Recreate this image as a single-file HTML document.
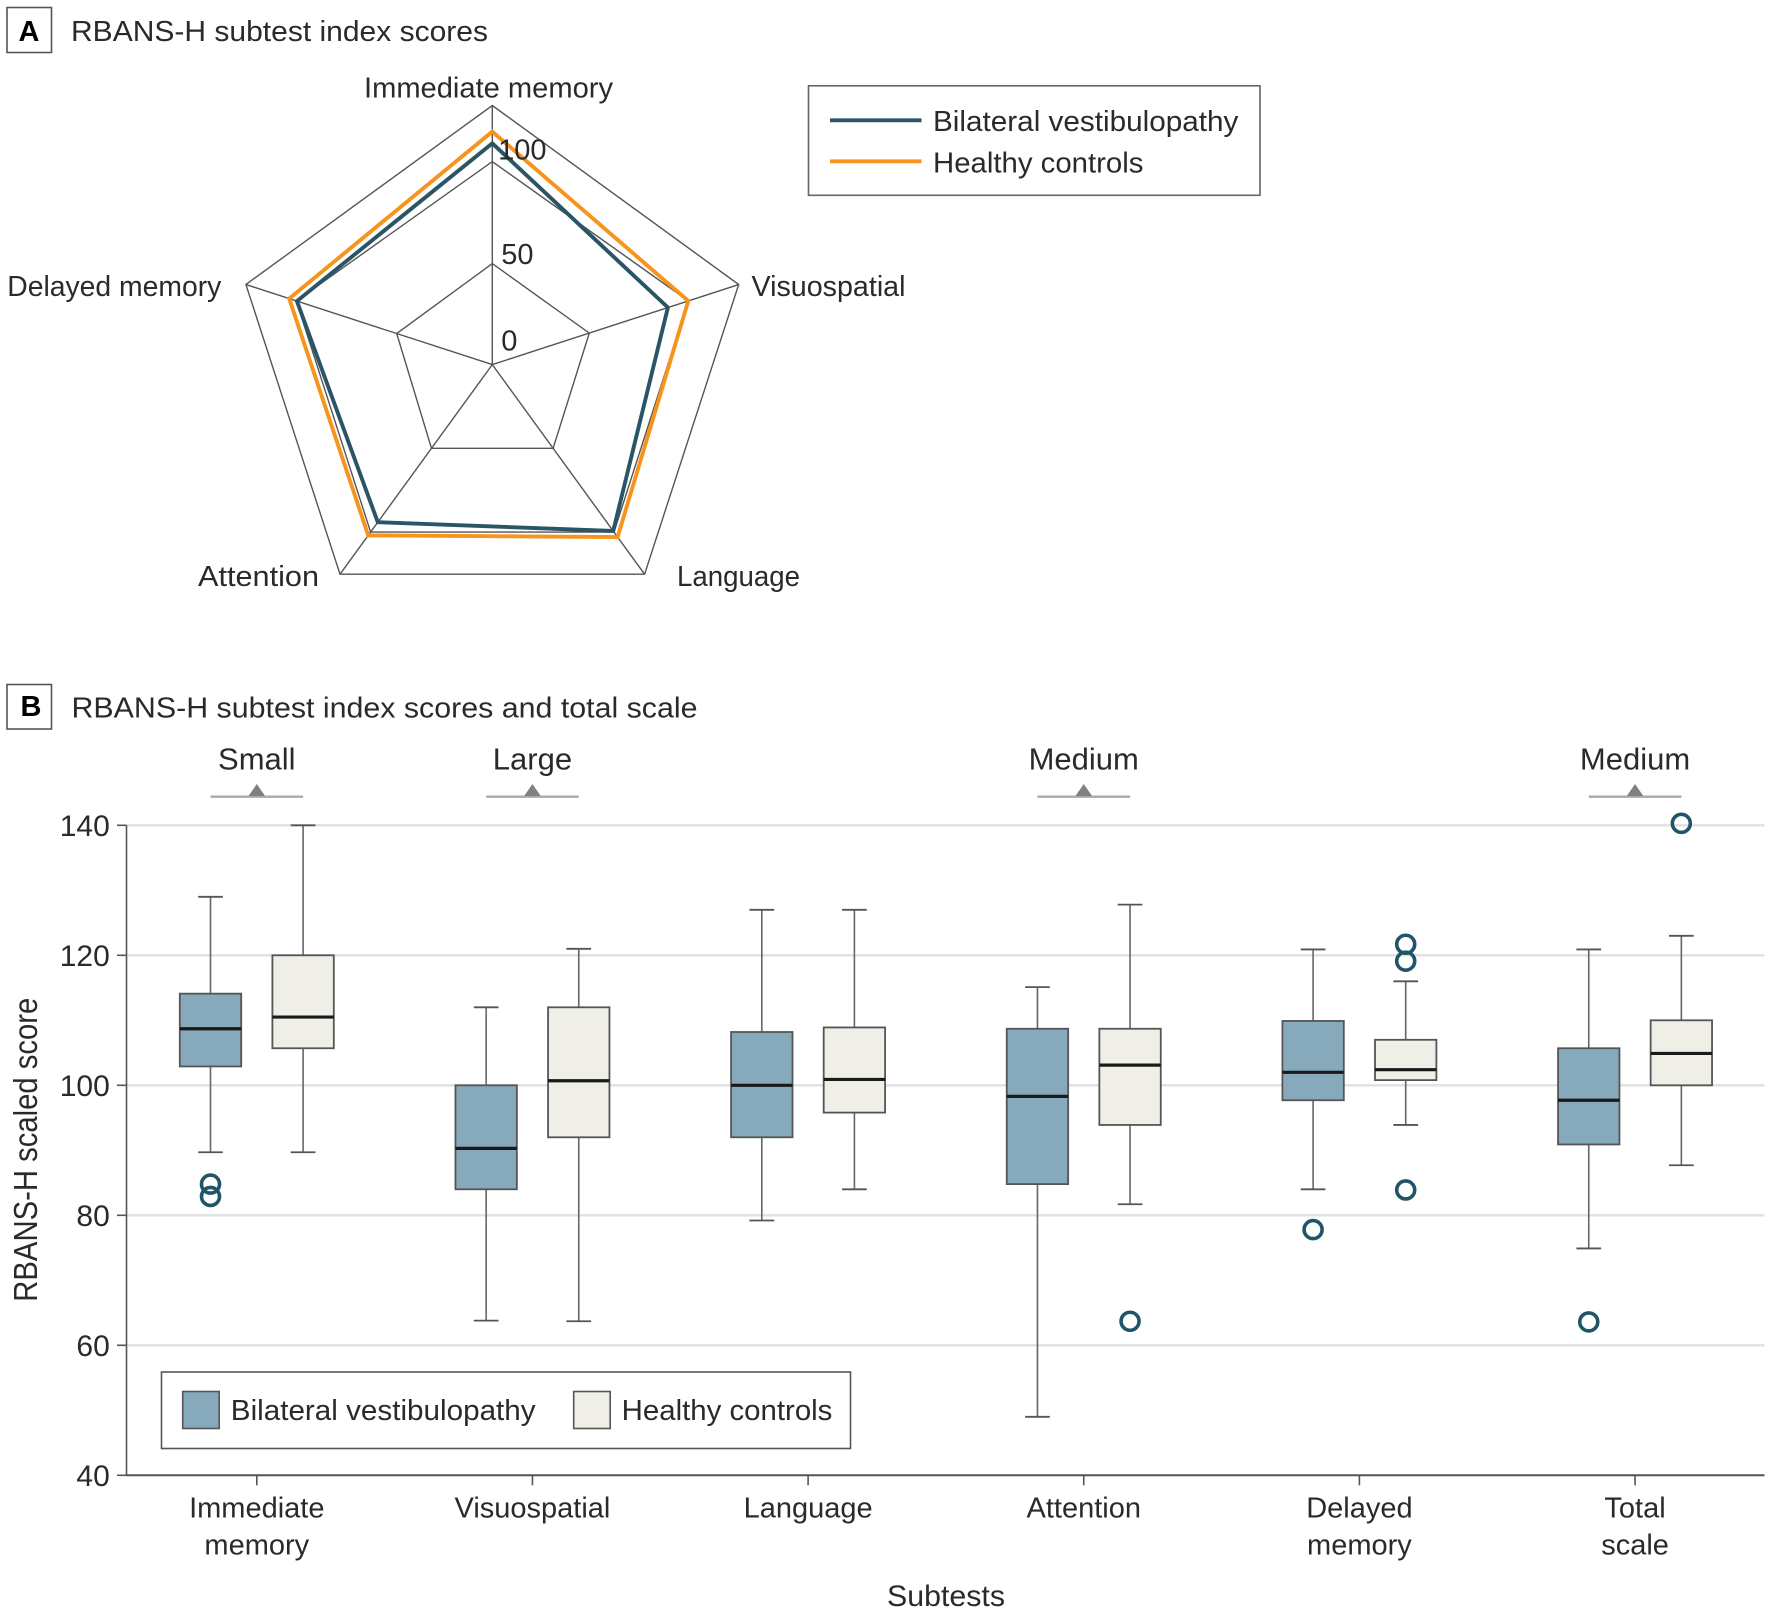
<!DOCTYPE html>
<html lang="en">
<head>
<meta charset="utf-8">
<title>RBANS-H subtest index scores</title>
<style>
html,body{margin:0;padding:0;background:#fff;width:1772px;height:1615px;overflow:hidden}
svg{display:block}
text{font-family:"Liberation Sans",sans-serif;fill:#2a2a2a}
</style>
</head>
<body>
<svg id="figure" xmlns="http://www.w3.org/2000/svg" width="1772" height="1615" viewBox="0 0 1772 1615">
  <rect x="0" y="0" width="1772" height="1615" fill="#fff"/>

  <g id="panel-a">
    <rect x="7" y="7.5" width="44.5" height="45" fill="#fff" stroke="#555" stroke-width="1.6"/>
    <text x="29" y="41" font-size="29" font-weight="700" text-anchor="middle" style="fill:#000">A</text>
    <text x="71" y="41" font-size="29" textLength="417" lengthAdjust="spacingAndGlyphs">RBANS-H subtest index scores</text>
    <g id="radar"></g>
    <text x="364" y="97.5" font-size="29" textLength="249" lengthAdjust="spacingAndGlyphs">Immediate memory</text>
    <text x="7.3" y="296" font-size="29" textLength="214" lengthAdjust="spacingAndGlyphs">Delayed memory</text>
    <text x="751.5" y="296" font-size="29" textLength="154" lengthAdjust="spacingAndGlyphs">Visuospatial</text>
    <text x="198" y="586" font-size="29" textLength="121" lengthAdjust="spacingAndGlyphs">Attention</text>
    <text x="677" y="586" font-size="29" textLength="123" lengthAdjust="spacingAndGlyphs">Language</text>

    <g>
      <rect x="808.5" y="85.8" width="451.5" height="109.5" fill="#fff" stroke="#666" stroke-width="1.6"/>
      <line x1="830" y1="120.3" x2="921.5" y2="120.3" stroke="#2a5566" stroke-width="3.8"/>
      <text x="933" y="131" font-size="29" textLength="305.4" lengthAdjust="spacingAndGlyphs">Bilateral vestibulopathy</text>
      <line x1="830" y1="161.3" x2="921.5" y2="161.3" stroke="#f7941d" stroke-width="3.8"/>
      <text x="933" y="172.5" font-size="29" textLength="210.4" lengthAdjust="spacingAndGlyphs">Healthy controls</text>
    </g>
  </g>

  <g id="panel-b">
    <rect x="7" y="684.5" width="44.5" height="44.5" fill="#fff" stroke="#555" stroke-width="1.6"/>
    <text x="31" y="716" font-size="29" font-weight="700" text-anchor="middle" style="fill:#000">B</text>
    <text x="71.5" y="717.3" font-size="29" textLength="626" lengthAdjust="spacingAndGlyphs">RBANS-H subtest index scores and total scale</text>
    <g id="boxplot"></g>
    <text transform="translate(37 1301.7) rotate(-90)" x="0" y="0" font-size="33" textLength="304" lengthAdjust="spacingAndGlyphs">RBANS-H scaled score</text>
    <text x="887" y="1606" font-size="30" textLength="118" lengthAdjust="spacingAndGlyphs">Subtests</text>

    <g>
      <rect x="161.5" y="1372" width="689" height="76.5" fill="#fff" stroke="#555" stroke-width="1.6"/>
      <rect x="182.7" y="1391.5" width="36.5" height="37" fill="#86a9bb" stroke="#555" stroke-width="1.6"/>
      <text x="230.8" y="1420" font-size="29" textLength="304.8" lengthAdjust="spacingAndGlyphs">Bilateral vestibulopathy</text>
      <rect x="573.7" y="1391.5" width="36.5" height="37" fill="#efefe7" stroke="#555" stroke-width="1.6"/>
      <text x="621.7" y="1420" font-size="29" textLength="210.7" lengthAdjust="spacingAndGlyphs">Healthy controls</text>
    </g>
  </g>
</svg>

<script>
// ---- Panel A data ----
const radarAxes = ["Immediate memory", "Visuospatial", "Language", "Attention", "Delayed memory"];
const radarRing50 = [49.5, 50, 50.7, 50.7, 49.3];
const radarRing100 = [99.5, 101, 101.5, 101.5, 101];
const radarRingOuter = [127, 127, 127, 127, 127];
const radarTickLabels = [0, 50, 100];
const radarBilateral = [108.5, 90.5, 100.8, 95.5, 100.7];
const radarHealthy = [114.2, 101, 104.5, 103.5, 104.7];

// ---- Panel B data ----
const categories = [["Immediate", "memory"], ["Visuospatial"], ["Language"], ["Attention"], ["Delayed", "memory"], ["Total", "scale"]];
const effectLabels = ["Small", "Large", "", "Medium", "", "Medium"];
const yTicks = [40, 60, 80, 100, 120, 140];

const bvWhiskerLow = [89.7, 63.8, 79.2, 49.0, 84.0, 74.9];
const bvQ1 = [102.9, 84.0, 92.0, 84.8, 97.7, 90.9];
const bvMedian = [108.7, 90.3, 100.0, 98.3, 102.0, 97.7];
const bvQ3 = [114.1, 100.0, 108.2, 108.7, 109.9, 105.7];
const bvWhiskerHigh = [129.0, 112.0, 127.0, 115.1, 120.9, 120.9];
const bvOutliers = [[84.8, 82.9], [], [], [], [77.8], [63.6]];

const hcWhiskerLow = [89.7, 63.7, 84.0, 81.7, 93.9, 87.7];
const hcQ1 = [105.7, 92.0, 95.8, 93.9, 100.8, 100.0];
const hcMedian = [110.5, 100.7, 100.9, 103.1, 102.4, 104.9];
const hcQ3 = [120.0, 112.0, 108.9, 108.7, 107.0, 110.0];
const hcWhiskerHigh = [140.0, 121.0, 127.0, 127.8, 116.0, 123.0];
const hcOutliers = [[], [], [], [63.7], [121.7, 119.1, 83.9], [140.3]];

// ---- helpers ----
const NS = "http://www.w3.org/2000/svg";
function make(parent, tag, props) {
  const node = document.createElementNS(NS, tag);
  for (const key in props) node.setAttribute(key, props[key]);
  parent.appendChild(node);
  return node;
}

// ---- Panel A: axis functions ----
const radarCx = 492.3, radarCy = 364.6, radarUnit = 2.04;
function radarX(i, v) { return radarCx + v * radarUnit * Math.sin(i * 2 * Math.PI / radarAxes.length); }
function radarY(i, v) { return radarCy - v * radarUnit * Math.cos(i * 2 * Math.PI / radarAxes.length); }
function radarPoints(values) { return values.map((v, i) => radarX(i, v).toFixed(1) + "," + radarY(i, v).toFixed(1)).join(" "); }

const radar = document.getElementById("radar");
[radarRing50, radarRing100, radarRingOuter].forEach(function (ring) {
  const poly = make(radar, "polygon", { points: radarPoints(ring), fill: "none", stroke: "#555", "stroke-width": 1.4 });
  
  
});
radarAxes.forEach(function (axis, i) {
  const spoke = make(radar, "line", { x1: radarCx, y1: radarCy, x2: radarX(i, radarRingOuter[i]), y2: radarY(i, radarRingOuter[i]), stroke: "#555", "stroke-width": 1.4 });
  
  
});
const radarHcLine = make(radar, "polygon", { points: radarPoints(radarHealthy), fill: "none", stroke: "#f7941d", "stroke-width": 3.9, "stroke-linejoin": "miter" });


const radarBvLine = make(radar, "polygon", { points: radarPoints(radarBilateral), fill: "none", stroke: "#2a5566", "stroke-width": 3.9, "stroke-linejoin": "miter" });


radarTickLabels.forEach(function (t) {
  const label = make(radar, "text", { x: radarCx + (t === 100 ? 5.8 : 9), y: radarY(0, t) + (t === 0 ? -14 : (t === 50 ? 1.4 : -1.3)), "font-size": 29 });
  label.textContent = t;
  
  
});

// ---- Panel B: axis functions ----
const plotLeft = 126.5, plotRight = 1764.5, firstCenter = 256.8, catStep = 275.65;
const boxOffset = 46.3, boxWidth = 61.4, capWidth = 24.7;
function yScale(v) { return 825.3 + (140 - v) * 6.5; }
function xScale(i) { return firstCenter + i * catStep; }

const plot = document.getElementById("boxplot");
yTicks.forEach(function (t) {
  if (t !== 40) {
    const grid = make(plot, "line", { x1: plotLeft, x2: plotRight, y1: yScale(t), y2: yScale(t), stroke: "#e0e0e3", "stroke-width": 2.4 });
    
    
  }
  const tick = make(plot, "line", { x1: 117, x2: plotLeft, y1: yScale(t), y2: yScale(t), stroke: "#555", "stroke-width": 1.6 });
  
  
  const label = make(plot, "text", { x: 109.8, y: yScale(t) + 10.5, "font-size": 30, "text-anchor": "end" });
  label.textContent = t;
  
  
});
const yAxis = make(plot, "line", { x1: plotLeft, x2: plotLeft, y1: yScale(140), y2: yScale(40), stroke: "#555", "stroke-width": 1.6 });


const xAxis = make(plot, "line", { x1: plotLeft, x2: plotRight, y1: yScale(40), y2: yScale(40), stroke: "#555", "stroke-width": 2 });



categories.forEach(function (lines, i) {
  const cx = xScale(i);
  const tick = make(plot, "line", { x1: cx, x2: cx, y1: yScale(40), y2: yScale(40) + 10, stroke: "#555", "stroke-width": 1.6 });
  
  
  lines.forEach(function (line, j) {
    const label = make(plot, "text", { x: cx, y: 1517.5 + j * 37, "font-size": 29, "text-anchor": "middle" });
    label.textContent = line;
    
    
  });
  if (effectLabels[i]) {
    const effect = make(plot, "text", { x: cx, y: 769.3, "font-size": 31, "text-anchor": "middle" });
    effect.textContent = effectLabels[i];
    
    
    const bracket = make(plot, "line", { x1: cx - boxOffset, x2: cx + boxOffset, y1: 796.7, y2: 796.7, stroke: "#aaa", "stroke-width": 2.4 });
    
    
    const arrow = make(plot, "polygon", { points: (cx - 8.3) + ",796 " + (cx + 8.3) + ",796 " + cx + ",784", fill: "#808080" });
    
    
  }
});

function drawBox(i, sign, low, q1, med, q3, high, outliers, fill, seriesName) {
  const cx = xScale(i) + sign * boxOffset;
  const whisker = make(plot, "line", { x1: cx, x2: cx, y1: yScale(high), y2: yScale(low), stroke: "#666", "stroke-width": 1.6 });
  
  
  [low, high].forEach(function (v) {
    const cap = make(plot, "line", { x1: cx - capWidth / 2, x2: cx + capWidth / 2, y1: yScale(v), y2: yScale(v), stroke: "#555", "stroke-width": 1.8 });
    
    
  });
  const box = make(plot, "rect", { x: cx - boxWidth / 2, y: yScale(q3), width: boxWidth, height: yScale(q1) - yScale(q3), fill: fill, stroke: "#555", "stroke-width": 1.8 });
  
  
  const median = make(plot, "line", { x1: cx - boxWidth / 2, x2: cx + boxWidth / 2, y1: yScale(med), y2: yScale(med), stroke: "#1a1a1a", "stroke-width": 3.2 });
  
  
  outliers.forEach(function (v) {
    const dot = make(plot, "circle", { cx: cx, cy: yScale(v), r: 9, fill: "none", stroke: "#1f5567", "stroke-width": 3.6 });
    
    
  });
}
categories.forEach(function (lines, i) {
  drawBox(i, -1, bvWhiskerLow[i], bvQ1[i], bvMedian[i], bvQ3[i], bvWhiskerHigh[i], bvOutliers[i], "#86a9bb", "bilateral-vestibulopathy");
  drawBox(i, 1, hcWhiskerLow[i], hcQ1[i], hcMedian[i], hcQ3[i], hcWhiskerHigh[i], hcOutliers[i], "#efefe7", "healthy-controls");
});
</script>
</body>
</html>
